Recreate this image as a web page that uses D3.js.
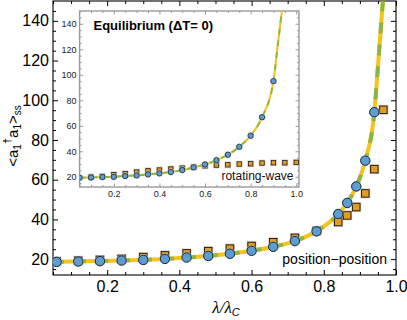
<!DOCTYPE html>
<html><head><meta charset="utf-8">
<script src="https://cdn.jsdelivr.net/npm/d3@7"></script>
<style>
html,body{margin:0;padding:0;background:#fff;}
svg{display:block;font-family:"Liberation Sans",Arial,sans-serif;}
</style></head>
<body><svg id="c" width="407" height="320"></svg>
<script>
// ---------- data ----------
// main panel: position-position coupling
const mainLam   = [0.06,0.12,0.18,0.24,0.30,0.36,0.42,0.48,0.54,0.60,0.66,0.72,0.78,0.84,0.865,0.89,0.915,0.94];
const mainNum   = [18.6,18.8,19.0,19.3,19.6,20.1,20.8,21.6,22.7,24.2,26.2,29.1,34.0,42.7,48.3,56.6,69.6,94.0];
const mainSqLam = [0.06,0.12,0.18,0.24,0.30,0.36,0.42,0.48,0.54,0.60,0.66,0.72,0.78,0.84,0.865,0.89,0.915,0.94,0.965];
const mainSq    = [18.9,19.2,19.6,20.1,21.0,21.9,22.9,24.0,25.3,26.6,28.5,30.7,34.2,38.7,42.0,46.2,53.1,65.3,95.2];
const mainCurveLam = [0.05,0.06,0.12,0.18,0.24,0.30,0.36,0.42,0.48,0.54,0.60,0.66,0.72,0.78,0.84,0.865,0.89,0.915,0.94,0.95,0.96,0.968];
const mainCurveVal = [18.5,18.6,18.8,19.0,19.3,19.6,20.1,20.8,21.6,22.7,24.2,26.2,29.1,34.0,42.7,48.3,56.6,69.6,94.0,117,141,160];
// inset: equilibrium, rotating-wave
const insLam   = [0.05,0.10,0.15,0.20,0.25,0.30,0.35,0.40,0.45,0.50,0.55,0.60,0.65,0.70,0.75,0.80,0.85,0.90];
const insNum   = [19.3,19.5,19.8,20.0,20.6,21.1,21.9,22.7,23.7,25.3,27.4,29.7,33.0,37.3,43.5,52.2,66.7,95.0];
const insSqLam = [0.10,0.15,0.20,0.25,0.30,0.35,0.40,0.45,0.50,0.55,0.60,0.65,0.70,0.75,0.80,0.85,0.90,0.95,1.00];
const insSq    = [19.8,20.3,21.6,22.4,23.7,24.7,25.3,26.1,26.8,27.6,28.6,29.2,29.4,30.0,30.2,30.8,31.0,31.0,31.3];
const insCurveLam = [0.05,0.10,0.15,0.20,0.25,0.30,0.35,0.40,0.45,0.50,0.55,0.60,0.65,0.70,0.75,0.80,0.85,0.90,0.92,0.937,0.95];
const insCurveVal = [19.3,19.5,19.8,20.0,20.6,21.1,21.9,22.7,23.7,25.3,27.4,29.7,33.0,37.3,43.5,52.2,66.7,95.0,125,150,170];
const xTicks = [0.2,0.4,0.6,0.8,1.0];
const yTicks = [20,40,60,80,100,120,140];

// ---------- styles ----------
const YEL="#F7C21B", GRN="#8DB640", BLUE="#5C9ED3", ORG="#E39B22";
const svg = d3.select("#c");

function panel(o){
  const g = svg.append("g");
  const x = d3.scaleLinear().domain(o.xd).range(o.xr);
  const y = d3.scaleLinear().domain([12,150]).range(o.yr);
  if(o.bg) g.append("rect").attr("x",o.xr[0]).attr("y",o.yr[1]).attr("width",o.xr[1]-o.xr[0]).attr("height",o.yr[0]-o.yr[1]).attr("fill","#fff");
  const cid = "clip"+o.id;
  g.append("clipPath").attr("id",cid).append("rect").attr("x",o.xr[0]).attr("y",o.yr[1]).attr("width",o.xr[1]-o.xr[0]).attr("height",o.yr[0]-o.yr[1]);
  // ticks
  const minorX = d3.range(0.05,1.0001,0.05).filter(v=>!xTicks.some(t=>Math.abs(t-v)<1e-6) && v>=o.xd[0]-1e-9 && v<=o.xd[1]);
  const minorY = d3.range(15,150,5).filter(v=>v%20!==0);
  const axes = [
    [d3.axisBottom(x), o.yr[0], "x", true],
    [d3.axisTop(x), o.yr[1], "x", false],
    [d3.axisLeft(y), o.xr[0], "y", true],
    [d3.axisRight(y), o.xr[1], "y", false]
  ];
  axes.forEach(([ax,pos,dir,lab])=>{
    const tr = dir==="x" ? `translate(0,${pos})` : `translate(${pos},0)`;
    const major = ax.tickValues(dir==="x"?xTicks:yTicks).tickSizeInner(-o.maj).tickSizeOuter(0)
      .tickPadding(dir==="x"?o.xpad:o.ypad).tickFormat(lab?(dir==="x"?d3.format(".1f"):d3.format("d")):"");
    const a = g.append("g").attr("transform",tr).call(major);
    a.select(".domain").remove();
    a.selectAll("line").attr("stroke",o.axc);
    a.selectAll("text").attr("font-size",o.fs).attr("fill",o.txc).attr("font-family","Liberation Sans, Arial, sans-serif");
    const mAx = (dir==="x"? (pos===o.yr[0]?d3.axisBottom(x):d3.axisTop(x)) : (pos===o.xr[0]?d3.axisLeft(y):d3.axisRight(y)))
      .tickValues(dir==="x"?minorX:minorY).tickSizeInner(-o.min).tickSizeOuter(0).tickFormat("");
    const m = g.append("g").attr("transform",tr).call(mAx);
    m.select(".domain").remove();
    m.selectAll("line").attr("stroke",o.axc);
  });
  g.append("rect").attr("x",o.xr[0]).attr("y",o.yr[1]).attr("width",o.xr[1]-o.xr[0]).attr("height",o.yr[0]-o.yr[1])
    .attr("fill","none").attr("stroke",o.axc).attr("stroke-width",o.fw);
  // curve
  const line = d3.line().x((d,i)=>x(o.cl[i])).y(d=>y(d)).curve(d3.curveMonotoneX);
  const cg = g.append("g").attr("clip-path",`url(#${cid})`);
  cg.append("path").attr("d",line(o.cv)).attr("fill","none").attr("stroke",YEL).attr("stroke-width",o.lw);
  cg.append("path").attr("d",line(o.cv)).attr("fill","none").attr("stroke",GRN).attr("stroke-width",o.lw).attr("stroke-dasharray",o.dash);
  // squares
  const s = o.sq;
  cg.selectAll(null).data(o.sv).enter().append("rect")
    .attr("x",(d,i)=>x(o.sl[i])-s/2-1.2).attr("y",d=>y(d)-s/2-1.2).attr("width",s+2.4).attr("height",s+2.4)
    .attr("fill","#bfae92").attr("opacity",0.6);
  cg.selectAll(null).data(o.sv).enter().append("rect")
    .attr("x",(d,i)=>x(o.sl[i])-s/2).attr("y",d=>y(d)-s/2).attr("width",s).attr("height",s)
    .attr("fill",ORG).attr("stroke","#2a2216").attr("stroke-width",o.mw);
  // circles
  cg.selectAll(null).data(o.nv).enter().append("circle")
    .attr("cx",(d,i)=>x(o.nl[i])).attr("cy",d=>y(d)).attr("r",o.r+1)
    .attr("fill","#cfdbe6").attr("opacity",0.6);
  cg.selectAll(null).data(o.nv).enter().append("circle")
    .attr("cx",(d,i)=>x(o.nl[i])).attr("cy",d=>y(d)).attr("r",o.r)
    .attr("fill",BLUE).attr("stroke","#1b232b").attr("stroke-width",o.mw);
  return {g,x,y};
}

// main panel
panel({id:"m", xd:[0.05,1.0], xr:[53,396], yr:[275,1], maj:5, min:3, xpad:6, ypad:4, fs:"16px",
  axc:"#000", txc:"#000", fw:1.1, cl:mainCurveLam, cv:mainCurveVal, lw:4, dash:"11,11",
  sl:mainSqLam, sv:mainSq, nl:mainLam, nv:mainNum, sq:7.5, r:4.7, mw:1});
// inset
panel({id:"i", bg:true, xd:[0.05,1.012], xr:[79.6,299], yr:[187,11], maj:3.5, min:2, xpad:3.5, ypad:3, fs:"9px",
  axc:"#9a9a9a", txc:"#222", fw:1.4, cl:insCurveLam, cv:insCurveVal, lw:2, dash:"6,6",
  sl:insSqLam, sv:insSq, nl:insLam, nv:insNum, sq:4.4, r:2.7, mw:0.8});

// texts
svg.append("text").attr("x",93.5).attr("y",30).attr("font-size","13px").attr("font-weight","bold").attr("fill","#000")
  .text("Equilibrium (ΔT= 0)");
svg.append("text").attr("x",293.5).attr("y",180).attr("text-anchor","end").attr("font-size","12px").attr("fill","#111")
  .text("rotating-wave");
svg.append("text").attr("x",387).attr("y",264).attr("text-anchor","end").attr("font-size","14px").attr("fill","#000")
  .text("position\u2212position");
// x label
const xl = svg.append("text").attr("x",226).attr("y",313).attr("text-anchor","middle")
  .attr("font-family","Liberation Serif, Times New Roman, serif").attr("font-style","italic").attr("font-size","17px");
xl.append("tspan").text("λ/λ");
xl.append("tspan").attr("font-size","11px").attr("dy",3).attr("font-family","Liberation Sans, Arial, sans-serif").text("C");
// y label
const yl = svg.append("text").attr("transform","translate(18,136) rotate(-90)").attr("text-anchor","middle")
  .attr("font-size","15px").attr("fill","#000");
yl.append("tspan").text("<a");
yl.append("tspan").attr("font-size","10px").attr("dy",3).text("1");
yl.append("tspan").attr("font-size","11px").attr("dy",-10).text("†");
yl.append("tspan").attr("dy",7).text("a");
yl.append("tspan").attr("font-size","10px").attr("dy",3).text("1");
yl.append("tspan").attr("dy",-3).text(">");
yl.append("tspan").attr("font-size","10px").attr("dy",3).text("ss");
</script></body></html>
